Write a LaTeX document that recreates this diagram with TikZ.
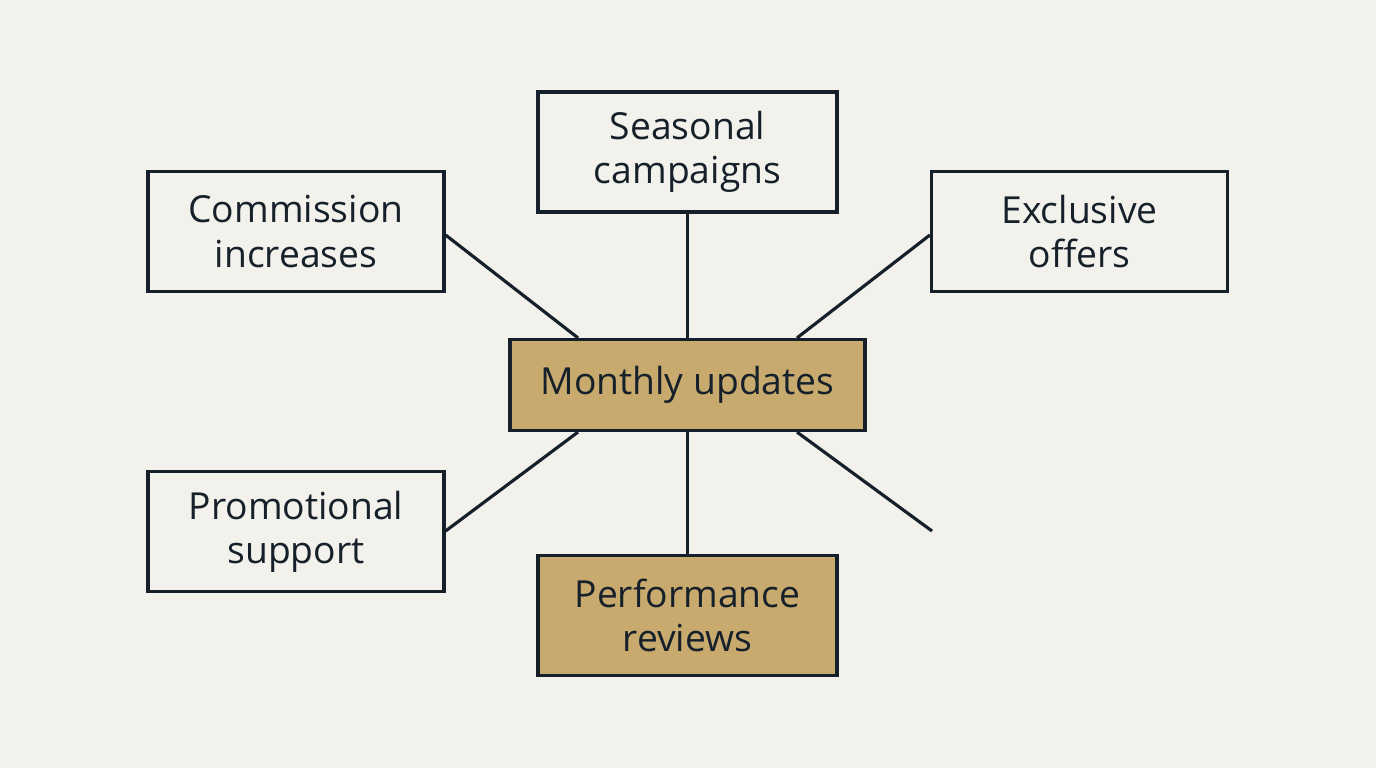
\documentclass[tikz,border=0pt]{standalone}
\usepackage{fontspec}
\setmainfont{Open Sans}
\definecolor{bgcol}{HTML}{F3F1EB}
\definecolor{inkcol}{HTML}{16202A}
\definecolor{goldcol}{HTML}{C8AA6E}
\tikzset{
  topic/.style={draw=inkcol, line width=0.9pt, fill=bgcol, minimum width=2.96cm, minimum height=1.2cm,
    align=center, text=inkcol, font=\fontsize{10.6}{12.6}\selectfont, inner sep=0pt},
  hub/.style={topic, fill=goldcol},
  link/.style={draw=inkcol, line width=0.9pt}
}
\begin{document}
\begin{tikzpicture}[y=-1cm]
\fill[bgcol] (0,0) rectangle (13.76,7.68);
\useasboundingbox (0,0) rectangle (13.76,7.68);
% centre
\node[hub, minimum width=3.55cm, minimum height=0.91cm] (monthly) at (6.875,3.85) {Monthly updates};
% branches
\node[topic, minimum width=2.99cm] (seasonal) at (6.875,1.52) {Seasonal\\campaigns};
\node[topic] (commission) at (2.96,2.315) {Commission\\increases};
\node[topic] (exclusive) at (10.795,2.315) {Exclusive\\offers};
\node[topic] (promo) at (2.96,5.315) {Promotional\\support};
\node[hub, minimum width=2.99cm] (perf) at (6.875,6.155) {Performance\\reviews};
\coordinate (loose) at (9.32,5.31);
% connectors
\draw[link] (commission.east |- 0,2.35) -- (monthly.north west -| 5.78,0);
\draw[link] (seasonal) -- (monthly);
\draw[link] (exclusive.west |- 0,2.35) -- (monthly.north east -| 7.97,0);
\draw[link] (monthly.south west -| 5.78,0) -- (promo.east |- 0,5.31);
\draw[link] (monthly) -- (perf);
\draw[link] (monthly.south east -| 7.97,0) -- (loose);
\end{tikzpicture}
\end{document}
